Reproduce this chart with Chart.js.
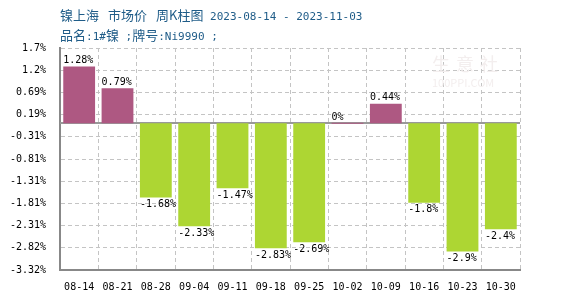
<!DOCTYPE html>
<html>
<head>
<meta charset="utf-8">
<script src="https://cdn.jsdelivr.net/npm/chart.js@4/dist/chart.umd.min.js"></script>
<style>
  body { margin: 0; background: #fff; }
  #wrap { position: relative; width: 570px; height: 300px; }
  #chart { position: absolute; left: 0; top: 0; }
  .head {
    position: absolute; left: 60px; color: #1f5c88; white-space: pre;
    font-family: "Noto Sans CJK SC", sans-serif; font-size: 13px; line-height: 16px;
  }
  .head .m { font-family: "DejaVu Sans Mono", monospace; font-size: 11px; }
  .head .g { margin-left: 9px; }
  #title { top: 7px; }
  #sub { top: 27px; }
  .wm { position: absolute; color: #f3eeee; font-family: "Noto Sans CJK SC", sans-serif; }
</style>
</head>
<body>
<div id="wrap">
  <canvas id="chart" width="570" height="300"></canvas>
  <div id="title" class="head">镍上海<span class="g">市场价</span><span class="g">周K柱图</span><span class="m"> 2023-08-14 - 2023-11-03</span></div>
  <div id="sub" class="head">品名<span class="m">:1#</span>镍<span class="m"> ;</span>牌号<span class="m">:Ni9990 ;</span></div>
  <div class="wm" style="left:432px;top:50px;font-size:18px;letter-spacing:6px;">生意社</div>
  <div class="wm" style="left:432px;top:74px;font-size:11px;">100PPI.COM</div>
</div>
<script>
// data
const weeks = ["08-14", "08-21", "08-28", "09-04", "09-11", "09-18", "09-25", "10-02", "10-09", "10-16", "10-23", "10-30"];
const changePct = [1.28, 0.79, -1.68, -2.33, -1.47, -2.83, -2.69, 0, 0.44, -1.8, -2.9, -2.4];
const yTickLabels = ["1.7%", "1.2%", "0.69%", "0.19%", "-0.31%", "-0.81%", "-1.31%", "-1.81%", "-2.31%", "-2.82%", "-3.32%"];
const yMax = 1.7;
const yMin = -3.32;

const upColor = "#ae5882";
const downColor = "#add633";
const monoFont = "DejaVu Sans Mono";

// zero line, under the bars
const zeroLine = {
  id: "zeroLine",
  beforeDatasetsDraw(chart) {
    const { ctx, chartArea } = chart;
    const y = Math.round(chart.scales.y.getPixelForValue(0));
    ctx.save();
    ctx.strokeStyle = "#999";
    ctx.lineWidth = 2;
    ctx.beginPath();
    ctx.moveTo(chartArea.left, y);
    ctx.lineTo(chartArea.right, y);
    ctx.stroke();
    ctx.restore();
  },
};

// value labels above / below each bar
const barLabels = {
  id: "barLabels",
  afterDatasetsDraw(chart) {
    const { ctx } = chart;
    const meta = chart.getDatasetMeta(0);
    ctx.save();
    ctx.font = "10px " + monoFont;
    ctx.fillStyle = "#000";
    ctx.textAlign = "left";
    meta.data.forEach((bar, i) => {
      const v = changePct[i];
      const x = bar.x - bar.width / 2;
      if (v < 0) {
        ctx.textBaseline = "top";
        ctx.fillText(v + "%", x, bar.y + 2);
      } else {
        ctx.textBaseline = "bottom";
        ctx.fillText(v + "%", x, bar.y - 1);
      }
    });
    ctx.restore();
  },
};

new Chart(document.getElementById("chart"), {
  type: "bar",
  data: {
    labels: weeks,
    datasets: [{
      data: changePct,
      backgroundColor: changePct.map((v) => (v >= 0 ? upColor : downColor)),
      barPercentage: 0.83,
      categoryPercentage: 1,
      minBarLength: 1,
    }],
  },
  options: {
    responsive: false,
    animation: false,
    layout: { padding: { left: 0, right: 50, top: 48, bottom: 0 } },
    plugins: { legend: { display: false }, tooltip: { enabled: false } },
    scales: {
      x: {
        afterFit(scale) { scale.height = 30; },
        grid: { color: "#c4c4c4", drawTicks: false },
        border: { color: "#888", width: 2, dash: [4, 3] },
        ticks: { color: "#000", font: { family: monoFont, size: 10 }, padding: 11, maxRotation: 0, autoSkip: false },
      },
      y: {
        min: yMin,
        max: yMax,
        afterFit(scale) { scale.width = 60; },
        afterBuildTicks(scale) {
          const step = (yMax - yMin) / (yTickLabels.length - 1);
          scale.ticks = yTickLabels.map((_, i) => ({ value: yMax - i * step }));
        },
        grid: { color: "#c4c4c4", drawTicks: false },
        border: { color: "#888", width: 2, dash: [4, 3] },
        ticks: {
          color: "#000",
          font: { family: monoFont, size: 10 },
          padding: 14,
          callback: (val, i) => yTickLabels[i],
        },
      },
    },
  },
  plugins: [zeroLine, barLabels],
});
</script>
</body>
</html>
